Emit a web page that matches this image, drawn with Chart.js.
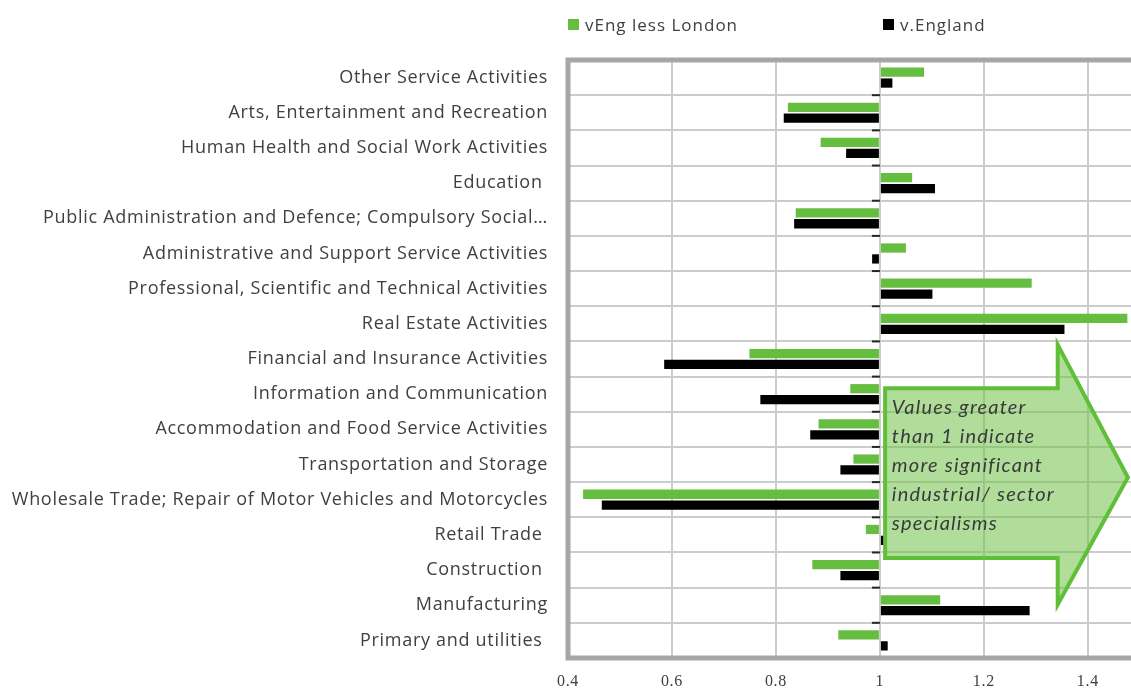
<!DOCTYPE html>
<html><head><meta charset="utf-8">
<script src="https://cdn.jsdelivr.net/npm/chart.js@4/dist/chart.umd.min.js"></script>
<style>
html,body{margin:0;padding:0;background:#fff;}
#wrap{position:relative;width:1131px;height:693px;overflow:hidden;}
#legend{position:absolute;top:0;left:0;width:1131px;height:50px;font-family:'Open Sans';font-size:17px;letter-spacing:1px;color:#404040;}
.li{position:absolute;top:13px;height:22px;display:flex;align-items:center;white-space:nowrap;}
.sw{width:11px;height:11px;margin-right:6px;display:inline-block;}
</style></head>
<body><div id="wrap"><canvas id="c" width="1131" height="693"></canvas><div id="legend"></div></div>
<script>
const categories = [
  'Other Service Activities',
  'Arts, Entertainment and Recreation',
  'Human Health and Social Work Activities',
  'Education ',
  'Public Administration and Defence; Compulsory Social\u2026',
  'Administrative and Support Service Activities',
  'Professional, Scientific and Technical Activities',
  'Real Estate Activities',
  'Financial and Insurance Activities',
  'Information and Communication',
  'Accommodation and Food Service Activities',
  'Transportation and Storage',
  'Wholesale Trade; Repair of Motor Vehicles and Motorcycles',
  'Retail Trade ',
  'Construction ',
  'Manufacturing',
  'Primary and utilities '
];
const vEngLessLondon = [1.085, 0.823, 0.886, 1.062, 0.838, 1.050, 1.292, 1.476, 0.749, 0.943, 0.882, 0.949, 0.429, 0.973, 0.870, 1.116, 0.920];
const vEngland       = [1.024, 0.815, 0.935, 1.106, 0.835, 0.985, 1.101, 1.355, 0.585, 0.770, 0.866, 0.924, 0.465, 1.008, 0.924, 1.288, 1.015];
const seriesNames = ['vEng less London', 'v.England'];
const xTicks = [0.4, 0.6, 0.8, 1, 1.2, 1.4];
const arrowText = ['Values greater', 'than 1 indicate', 'more significant', 'industrial/ sector', 'specialisms'];

const GREEN = '#66be40', BLACK = '#000000';

const spacingPlugin = {
  id: 'spacing',
  beforeDraw(chart) { chart.ctx.letterSpacing = '0.7px'; },
  beforeDatasetsDraw(chart) { chart.ctx.letterSpacing = '0px'; }
};

const framePlugin = {
  id: 'frame',
  beforeDatasetsDraw(chart) {
    const {ctx, chartArea: a, scales: {x, y}} = chart;
    ctx.save();
    ctx.strokeStyle = '#262626'; ctx.lineWidth = 2;
    const x1 = x.getPixelForValue(1);
    for (let i = 0; i <= categories.length; i++) {
      const yy = y.getPixelForValue(i - 0.5);
      ctx.beginPath(); ctx.moveTo(x1 - 8, yy); ctx.lineTo(x1, yy); ctx.stroke();
    }
    ctx.strokeStyle = '#a6a6a6'; ctx.lineWidth = 5;
    ctx.beginPath();
    ctx.moveTo(a.right + 5, a.top); ctx.lineTo(a.left, a.top); ctx.lineTo(a.left, a.bottom); ctx.lineTo(a.right + 5, a.bottom);
    ctx.stroke();
    ctx.restore();
  }
};

const arrowPlugin = {
  id: 'arrow',
  afterDatasetsDraw(chart) {
    const {ctx, scales: {x, y}} = chart;
    const X = v => x.getPixelForValue(v), Y = i => y.getPixelForValue(i);
    const bodyL = X(1.01), headB = X(1.342), tipX = X(1.477);
    const bodyT = Y(8.83), bodyB = Y(13.66), headT = Y(7.60), headBot = Y(14.98), tipY = Y(11.37);
    ctx.save();
    ctx.beginPath();
    ctx.moveTo(bodyL, bodyT);
    ctx.lineTo(headB, bodyT);
    ctx.lineTo(headB, headT);
    ctx.lineTo(tipX, tipY);
    ctx.lineTo(headB, headBot);
    ctx.lineTo(headB, bodyB);
    ctx.lineTo(bodyL, bodyB);
    ctx.closePath();
    ctx.fillStyle = 'rgba(112,193,70,0.55)';
    ctx.fill();
    ctx.lineWidth = 4; ctx.strokeStyle = '#5fbf38'; ctx.lineJoin = 'miter';
    ctx.stroke();
    ctx.fillStyle = '#3a3a3a';
    ctx.font = 'italic 20px Lato';
    ctx.letterSpacing = '1.2px';
    ctx.textBaseline = 'middle'; ctx.textAlign = 'left';
    const tx = X(1.023);
    arrowText.forEach((t, k) => ctx.fillText(t, tx, Y(9.37 + k * 0.83)));
    ctx.restore();
  }
};

const chart = new Chart(document.getElementById('c'), {
  type: 'bar',
  data: {
    labels: categories,
    datasets: [
      {label: seriesNames[0], data: vEngLessLondon, backgroundColor: GREEN, base: 1, categoryPercentage: 0.62, barPercentage: 0.85},
      {label: seriesNames[1], data: vEngland, backgroundColor: BLACK, base: 1, categoryPercentage: 0.62, barPercentage: 0.85}
    ]
  },
  options: {
    indexAxis: 'y',
    responsive: false,
    animation: false,
    layout: {padding: {top: 60, right: 0, bottom: 0, left: 0}},
    plugins: {legend: {display: false}, tooltip: {enabled: false}},
    scales: {
      x: {
        type: 'linear', min: 0.4, max: 1.483,
        afterBuildTicks(s) { s.ticks = xTicks.map(v => ({value: v})); },
        afterFit(s) { s.height = 35; },
        grid: {color: '#cccccc', lineWidth: 2, drawTicks: false},
        border: {display: false},
        ticks: {color: '#404040', font: {family: 'Liberation Serif', size: 16}, padding: 14, maxRotation: 0, callback: v => String(v)}
      },
      y: {
        type: 'category', offset: true,
        grid: {offset: true, color: '#cccccc', lineWidth: 2, drawTicks: false},
        border: {display: false},
        ticks: {color: '#404040', font: {family: 'Open Sans', size: 18}, padding: 20, autoSkip: false},
        afterFit(s) { s.width = 568; }
      }
    }
  },
  plugins: [spacingPlugin, framePlugin, arrowPlugin]
});

const legendPos = [568, 883];
const lg = document.getElementById('legend');
chart.data.datasets.forEach((ds, i) => {
  const d = document.createElement('div');
  d.className = 'li'; d.style.left = legendPos[i] + 'px';
  const s = document.createElement('span'); s.className = 'sw'; s.style.background = ds.backgroundColor;
  d.appendChild(s); d.appendChild(document.createTextNode(ds.label));
  lg.appendChild(d);
});
</script>
</body></html>
